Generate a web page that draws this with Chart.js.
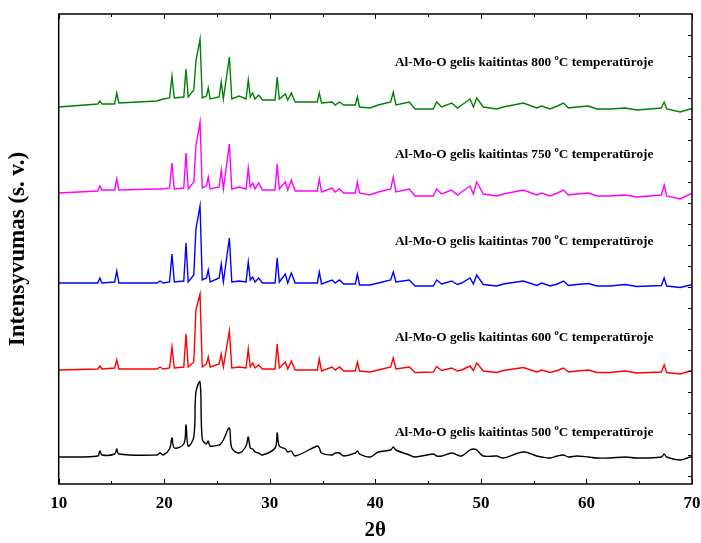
<!DOCTYPE html>
<html>
<head>
<meta charset="utf-8">
<script src="https://cdn.jsdelivr.net/npm/chart.js@4.4.0/dist/chart.umd.min.js"></script>
<style>
body{margin:0;background:#fff}
canvas{display:block}
</style>
</head>
<body>
<canvas id="myChart" width="701" height="543"></canvas>
<script>
// 2theta points (peaks and valleys), shared by all patterns
var dviTeta = [10.0, 13.7, 13.9, 14.1, 15.3, 15.5, 15.7, 19.3, 19.6, 19.9, 20.5, 20.73, 20.95, 21.85, 22.06, 22.27, 22.8, 23.0, 23.39, 23.6,
  24.0, 24.17, 24.35, 25.2, 25.4, 25.6, 26.17, 26.4, 27.1, 27.75, 27.96, 28.15, 28.38, 28.6, 28.95, 29.3, 30.5, 30.7, 30.9, 31.47,
  31.7, 32.04, 32.4, 34.5, 34.69, 34.9, 35.9, 36.2, 36.6, 37.0, 38.1, 38.3, 38.5, 39.49, 40.28, 41.45, 41.7, 41.95, 43.22, 43.76,
  45.49, 45.81, 46.28, 47.23, 47.77, 48.18, 48.97, 49.29, 49.6, 50.23, 51.5, 52.13, 54.02, 55.29, 55.76, 56.55, 57.25, 57.82, 58.29, 59.08,
  60.19, 60.98, 62.24, 63.66, 64.77, 67.1, 67.36, 67.6, 68.88, 69.82, 70.0];

// intensities (with vertical offsets as plotted)
var int800 = [377, 380, 383, 380, 380, 391, 381, 383, 384, 385, 386, 408, 386, 387, 415, 387, 394, 423, 445, 386,
  388, 396, 385, 387, 402, 385, 427, 385, 388, 385, 404, 387, 391, 385, 389, 384, 384, 407, 385, 390,
  384, 391, 382, 382, 391, 381, 382, 379, 382, 379, 379, 387, 377, 376, 379, 382, 392, 379, 382, 375,
  375, 382, 377, 381, 376, 379, 385, 377, 386, 377, 375, 377, 381, 376, 378, 375, 378, 381, 376, 377,
  378, 375, 375, 376, 374, 376, 382, 375, 372, 375, 375];
var int750 = [291, 293, 298, 294, 294, 305, 294, 295, 295, 295, 296, 321, 295, 296, 331, 295, 302, 338, 362, 296,
  298, 307, 295, 297, 314, 295, 340, 295, 297, 295, 316, 297, 301, 295, 301, 294, 294, 320, 295, 302,
  294, 304, 293, 293, 305, 292, 296, 292, 295, 291, 291, 302, 291, 289, 292, 295, 307, 292, 295, 288,
  288, 295, 290, 294, 289, 292, 298, 290, 302, 290, 288, 290, 294, 289, 291, 288, 291, 294, 289, 290,
  291, 288, 288, 289, 287, 289, 299, 288, 285, 290, 290];
var int700 = [201, 201, 206, 201, 202, 213, 201, 201, 203, 201, 202, 230, 202, 203, 241, 202, 209, 255, 278, 204,
  206, 214, 202, 206, 220, 202, 246, 202, 203, 202, 222, 204, 207, 202, 206, 201, 201, 226, 202, 210,
  201, 211, 201, 201, 212, 200, 204, 201, 204, 200, 200, 210, 199, 199, 201, 204, 212, 202, 204, 198,
  198, 204, 200, 203, 199.5, 201, 206, 200, 209, 199.5, 198, 200, 203, 198.5, 201, 198, 200, 203, 198.5, 199.5,
  200.5, 198, 198, 199.5, 197.5, 198.5, 206, 198, 196.5, 199, 199];
var int600 = [114, 115, 118, 115, 116, 124, 115, 115, 117, 115, 116, 137, 116, 117, 150, 117, 122, 174, 190, 117,
  120, 127, 117, 120, 130, 117, 153, 116, 117, 116, 135, 117, 121, 116, 119, 115, 115, 140, 116, 122,
  115, 123, 114, 114, 125, 113, 117, 114, 117, 113, 113, 122, 113, 112, 114, 117, 126, 115, 117, 111.5,
  112, 117.5, 113.5, 116, 113, 114, 118, 113.5, 121, 113, 111.5, 113.5, 116.5, 112, 114, 111.5, 113.5, 116, 112, 113,
  114, 111.5, 111.5, 113, 111, 112, 119, 111.5, 110, 113, 113];
var int500 = [27, 28, 33, 29, 30, 35, 30, 29, 31, 29, 35, 46, 36, 40, 59, 38, 47, 92, 102, 45,
  40, 43, 38, 39, 41, 44, 56, 36, 31, 38, 47, 36, 35, 32, 31, 29, 36, 51, 38, 35,
  32, 33, 28, 38, 36, 31, 29, 31, 31, 28, 31, 33, 30, 27, 32, 34, 37, 34, 29, 27,
  30, 28, 28, 31, 29, 28, 34, 35, 34, 28, 28, 26, 32, 28, 27, 26, 28, 29, 27, 28,
  27, 26, 26, 27, 26, 27, 30, 27, 24, 27, 27];

var temperaturos = ['800', '750', '700', '600', '500'];
var serijos = [int800, int750, int700, int600, int500];
var spalvos = ['#008000', '#ff00ff', '#0000ff', '#ff0000', '#000000'];
var xTicks = [10, 20, 30, 40, 50, 60, 70];

// where the captions sit (2theta, intensity)
var uzrasoX = 54.1;
var uzrasoY = [423, 331, 244, 148, 53];

var serifas = '"Liberation Serif", "Times New Roman", serif';

function taskai(sar) {
    return dviTeta.map(function (t, i) { return { x: t, y: sar[i] }; });
}

var remelis = {
    id: 'remelis',
    afterDatasetsDraw: function (chart) {
        var ctx = chart.ctx;
        var a = chart.chartArea;
        var xs = chart.scales.x;
        var ys = chart.scales.y;
        ctx.save();
        ctx.strokeStyle = '#000';
        ctx.lineWidth = 1.5;
        ctx.strokeRect(a.left, a.top, a.right - a.left, a.bottom - a.top);

        ctx.lineWidth = 1;
        ctx.beginPath();
        for (var v = 10; v <= 70; v += 5) {
            var px = Math.round(xs.getPixelForValue(v)) + 0.5;
            var l = (v % 10 === 0) ? 5 : 3;
            ctx.moveTo(px, a.bottom); ctx.lineTo(px, a.bottom - l);
            ctx.moveTo(px, a.top); ctx.lineTo(px, a.top + l);
        }
        for (var w = 470 - 21; w > 0; w -= 21) {
            var py = Math.round(ys.getPixelForValue(w)) + 0.5;
            ctx.moveTo(a.right, py); ctx.lineTo(a.right - 4, py);
        }
        ctx.stroke();

        // captions with superscript o
        ctx.fillStyle = '#000';
        ctx.textBaseline = 'alphabetic';
        var f1 = 'bold 13.3px ' + serifas;
        var f2 = 'bold 8.5px ' + serifas;
        for (var i = 0; i < temperaturos.length; i++) {
            var t1 = 'Al-Mo-O gelis kaitintas ' + temperaturos[i] + ' ';
            var t2 = 'o';
            var t3 = 'C temperatūroje';
            ctx.font = f1;
            var w1 = ctx.measureText(t1).width;
            var w3 = ctx.measureText(t3).width;
            ctx.font = f2;
            var w2 = ctx.measureText(t2).width;
            var cx = xs.getPixelForValue(uzrasoX);
            var cy = ys.getPixelForValue(uzrasoY[i]) + 4.5;
            var x0 = cx - (w1 + w2 + w3) / 2;
            ctx.font = f1;
            ctx.textAlign = 'left';
            ctx.fillText(t1, x0, cy);
            ctx.font = f2;
            ctx.fillText(t2, x0 + w1, cy - 5.5);
            ctx.font = f1;
            ctx.fillText(t3, x0 + w1 + w2, cy);
        }
        ctx.restore();
    }
};

var ctx = document.getElementById('myChart').getContext('2d');
var myChart = new Chart(ctx, {
    type: 'line',
    data: {
        datasets: serijos.map(function (s, i) {
            return {
                label: temperaturos[i] + ' °C',
                data: taskai(s),
                borderColor: spalvos[i],
                borderWidth: 1.4,
                pointRadius: 0,
                tension: i === 4 ? 0.35 : 0,
                fill: false
            };
        })
    },
    options: {
        responsive: false,
        animation: false,
        layout: { padding: { top: 14, right: 9 } },
        plugins: { legend: { display: false }, tooltip: { enabled: false } },
        scales: {
            x: {
                type: 'linear',
                min: 10,
                max: 70,
                afterBuildTicks: function (s) { s.ticks = xTicks.map(function (v) { return { value: v }; }); },
                ticks: { padding: 9, color: '#000', font: { family: serifas, weight: 'bold', size: 17 } },
                grid: { display: false, drawTicks: false },
                border: { display: false },
                title: { display: true, text: '2θ', color: '#000', font: { family: serifas, weight: 'bold', size: 21 }, padding: { top: 0, bottom: 0 } },
                afterFit: function (s) { s.height = 59; s.paddingLeft = 0; s.paddingRight = 0; }
            },
            y: {
                min: 0,
                max: 470,
                ticks: { display: false },
                grid: { display: false, drawTicks: false },
                border: { display: false },
                title: { display: true, text: 'Intensyvumas (s. v.)', color: '#000', font: { family: serifas, weight: 'bold', size: 23 }, padding: { top: 4, bottom: 0 } },
                afterFit: function (s) { s.width = 58.7; }
            }
        }
    },
    plugins: [remelis]
});
</script>
</body>
</html>
